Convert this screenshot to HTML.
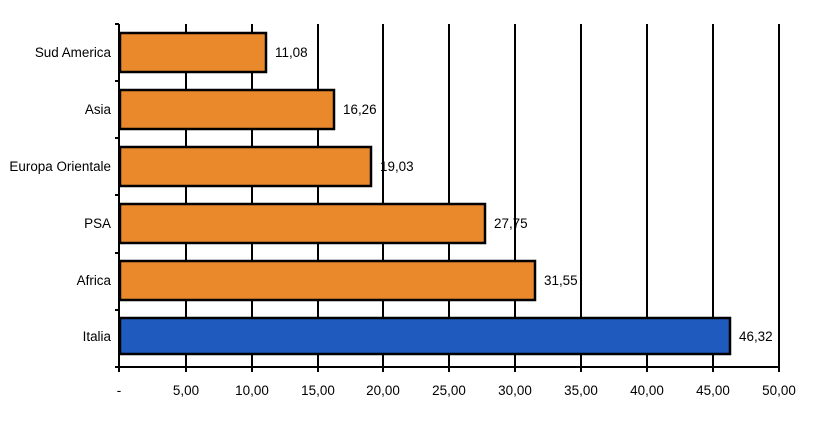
<!DOCTYPE html>
<html><head><meta charset="utf-8"><style>body{margin:0;background:#fff}svg{display:block}text{font-family:"Liberation Sans",sans-serif;font-size:14px;fill:#000}</style></head><body>
<svg width="816" height="427" viewBox="0 0 816 427">
<g stroke="#000" stroke-width="2">
<line x1="186" y1="24" x2="186" y2="372"/><line x1="252" y1="24" x2="252" y2="372"/><line x1="318" y1="24" x2="318" y2="372"/><line x1="383" y1="24" x2="383" y2="372"/><line x1="449" y1="24" x2="449" y2="372"/><line x1="515" y1="24" x2="515" y2="372"/><line x1="581" y1="24" x2="581" y2="372"/><line x1="647" y1="24" x2="647" y2="372"/><line x1="713" y1="24" x2="713" y2="372"/><line x1="779" y1="24" x2="779" y2="372"/>
</g>
<g stroke="#000" stroke-width="2.5">
<rect x="120" y="33" width="146" height="39" fill="#EA892C"/>
<rect x="120" y="90" width="214" height="39" fill="#EA892C"/>
<rect x="120" y="147" width="251" height="39" fill="#EA892C"/>
<rect x="120" y="204" width="365" height="39" fill="#EA892C"/>
<rect x="120" y="261" width="415" height="39" fill="#EA892C"/>
<rect x="120" y="318" width="610" height="36" fill="#1F5BBE"/>
</g>
<g stroke="#000" stroke-width="2">
<line x1="119" y1="24" x2="119" y2="372"/><line x1="119" y1="367" x2="779" y2="367"/>
<line x1="115" y1="24" x2="119" y2="24"/><line x1="115" y1="81" x2="119" y2="81"/><line x1="115" y1="138" x2="119" y2="138"/><line x1="115" y1="195" x2="119" y2="195"/><line x1="115" y1="253" x2="119" y2="253"/><line x1="115" y1="310" x2="119" y2="310"/><line x1="115" y1="367" x2="119" y2="367"/>
</g>
<g text-anchor="end">
<text transform="translate(111,57) scale(0.96,1)">Sud America</text>
<text transform="translate(111,114) scale(0.96,1)">Asia</text>
<text transform="translate(111,171) scale(0.96,1)">Europa Orientale</text>
<text transform="translate(111,228) scale(0.96,1)">PSA</text>
<text transform="translate(111,285) scale(0.96,1)">Africa</text>
<text transform="translate(111,341) scale(0.96,1)">Italia</text>
</g>
<g>
<text transform="translate(275,57) scale(0.96,1)">11,08</text>
<text transform="translate(343,114) scale(0.96,1)">16,26</text>
<text transform="translate(380,171) scale(0.96,1)">19,03</text>
<text transform="translate(494,228) scale(0.96,1)">27,75</text>
<text transform="translate(544,285) scale(0.96,1)">31,55</text>
<text transform="translate(739,341) scale(0.96,1)">46,32</text>
</g>
<g text-anchor="middle">
<text transform="translate(119,395) scale(0.96,1)">-</text>
<text transform="translate(186,395) scale(0.96,1)">5,00</text>
<text transform="translate(252,395) scale(0.96,1)">10,00</text>
<text transform="translate(318,395) scale(0.96,1)">15,00</text>
<text transform="translate(383,395) scale(0.96,1)">20,00</text>
<text transform="translate(449,395) scale(0.96,1)">25,00</text>
<text transform="translate(515,395) scale(0.96,1)">30,00</text>
<text transform="translate(581,395) scale(0.96,1)">35,00</text>
<text transform="translate(647,395) scale(0.96,1)">40,00</text>
<text transform="translate(713,395) scale(0.96,1)">45,00</text>
<text transform="translate(779,395) scale(0.96,1)">50,00</text>
</g>
</svg>
</body></html>
